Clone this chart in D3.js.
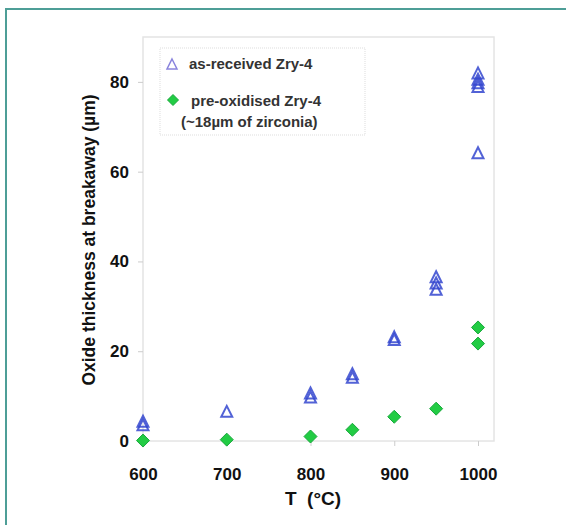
<!DOCTYPE html>
<html><head><meta charset="utf-8">
<script src="https://cdn.jsdelivr.net/npm/d3@7"></script>
<style>body{margin:0;background:#fff;}svg{display:block;font-family:"Liberation Sans",Arial,sans-serif;}</style>
</head><body>
<script>
const xTicks = [600, 700, 800, 900, 1000];
const yTicks = [0, 20, 40, 60, 80];
const asReceivedT = [600, 600, 700, 800, 800, 850, 850, 900, 900, 950, 950, 950, 1000, 1000, 1000, 1000, 1000];
const asReceivedV = [3.6, 4.4, 6.6, 9.8, 10.7, 14.2, 15.0, 22.6, 23.2, 33.8, 35.2, 36.6, 64.2, 79.0, 79.8, 80.6, 82.0];
const preOxT = [600, 700, 800, 850, 900, 950, 1000, 1000];
const preOxV = [0.1, 0.3, 1.0, 2.5, 5.4, 7.2, 21.7, 25.3];
const legendLabels = ["as-received Zry-4", "pre-oxidised Zry-4", "(~18µm of zirconia)"];

const W = 566, H = 525;
const svg = d3.select("body").append("svg").attr("width", W).attr("height", H);
svg.append("path").attr("d", `M6,${H} V9 H${W}`).attr("fill","none").attr("stroke","#4e9e97").attr("stroke-width",2);

const x = d3.scaleLinear().domain([600, 1000]).range([143, 478]);
const y = d3.scaleLinear().domain([0, 90]).range([441, 37]);

svg.append("rect").attr("x",143).attr("y",37).attr("width",494-143).attr("height",441-37)
  .attr("fill","none").attr("stroke","#e4e4e4").attr("stroke-width",1.5);

const yAxis = d3.axisLeft(y).tickValues(yTicks).tickSize(5).tickPadding(9);
const gy = svg.append("g").attr("transform","translate(143,0)").call(yAxis);
gy.select(".domain").remove();
gy.selectAll(".tick line").attr("stroke","#ccc");
gy.selectAll(".tick text").attr("font-size",17).attr("font-weight","bold").attr("fill","#111");

const xAxis = d3.axisBottom(x).tickValues(xTicks).tickSize(5).tickPadding(22).tickFormat(d3.format("d"));
const gx = svg.append("g").attr("transform","translate(0,441)").call(xAxis);
gx.select(".domain").remove();
gx.selectAll(".tick line").attr("stroke","#ccc");
gx.selectAll(".tick text").attr("font-size",17).attr("font-weight","bold").attr("fill","#111");

svg.append("text").attr("x",313).attr("y",505).attr("text-anchor","middle")
  .attr("font-size",19).attr("font-weight","bold").attr("fill","#111").attr("xml:space","preserve").text("T  (°C)");
svg.append("text").attr("transform","translate(95,240) rotate(-90)").attr("text-anchor","middle")
  .attr("font-size",17.5).attr("font-weight","bold").attr("fill","#111").text("Oxide thickness at breakaway (µm)");

const triPath = (w,h) => `M0,${-h/2} L${w/2},${h/2} L${-w/2},${h/2} Z`;
const diaPath = r => `M0,${-r} L${r},0 L0,${r} L${-r},0 Z`;
svg.append("g").selectAll("path").data(asReceivedT.map((t,i)=>[t,asReceivedV[i]])).join("path")
  .attr("d", triPath(11,11)).attr("transform", d=>`translate(${x(d[0])},${y(d[1])})`)
  .attr("fill","none").attr("stroke","#3446cf").attr("stroke-width",2).attr("stroke-opacity",0.85);
svg.append("g").selectAll("path").data(preOxT.map((t,i)=>[t,preOxV[i]])).join("path")
  .attr("d", diaPath(6.5)).attr("transform", d=>`translate(${x(d[0])},${y(d[1])})`)
  .attr("fill","#22cc44").attr("stroke","#18a83c").attr("stroke-width",1);

svg.append("rect").attr("x",160).attr("y",48).attr("width",205).attr("height",87)
  .attr("fill","#fff").attr("stroke","#ddd").attr("stroke-dasharray","1,1");
svg.append("path").attr("d", triPath(10,10)).attr("transform","translate(172,64)")
  .attr("fill","none").attr("stroke","#8a84dd").attr("stroke-width",1.5);
svg.append("path").attr("d", diaPath(5.5)).attr("transform","translate(173,100)")
  .attr("fill","#22cc44").attr("stroke","#18a83c");
const lt = svg.append("g").attr("font-size",15).attr("font-weight","bold").attr("fill","#333");
lt.append("text").attr("x",189).attr("y",69).text(legendLabels[0]);
lt.append("text").attr("x",191).attr("y",106).text(legendLabels[1]);
lt.append("text").attr("x",181).attr("y",127).text(legendLabels[2]);
</script>
</body></html>
